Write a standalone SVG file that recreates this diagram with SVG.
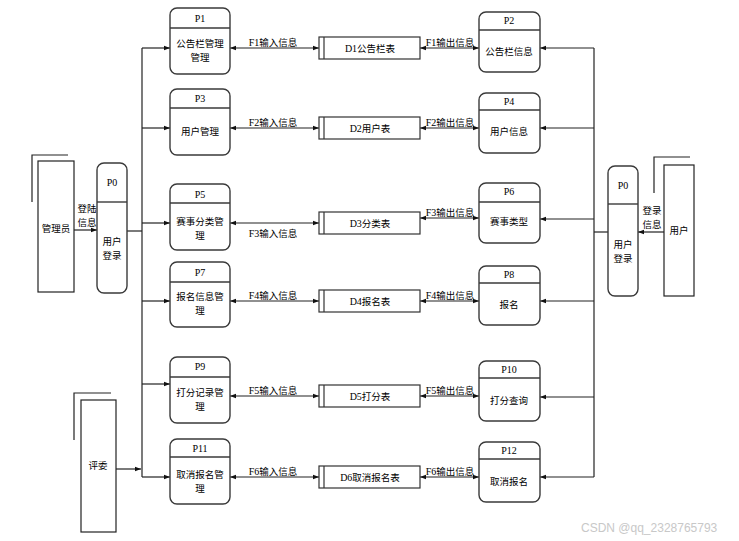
<svg xmlns="http://www.w3.org/2000/svg" width="739" height="541" viewBox="0 0 739 541">
<style>
.box{fill:#fff;stroke:#3a3a3a;stroke-width:1.4}
.ext{fill:#fff;stroke:#222;stroke-width:1.2}
.ln{fill:none;stroke:#222;stroke-width:1.2}
.ds{fill:#fff;stroke:#333;stroke-width:1.2}
text{font-family:"Liberation Serif","Noto Sans CJK SC",serif;font-size:10px;fill:#000;text-anchor:middle}
.cn{font-family:"Noto Sans CJK SC","Liberation Sans",sans-serif;font-size:9.5px}
.wm{font-family:"Liberation Sans","Noto Sans",sans-serif;font-size:12px;fill:#c8c8c8;text-anchor:start}
</style>
<defs>
<marker id="ah" viewBox="0 0 8 8" refX="8" refY="4" markerWidth="6" markerHeight="6" orient="auto-start-reverse" markerUnits="userSpaceOnUse">
<path d="M0,1 L8,4 L0,7 z" fill="#111"/>
</marker>
</defs>

<g id="connectors">
<line class="ln" x1="142" y1="48" x2="142" y2="477"/>
<line class="ln" x1="127" y1="231" x2="142" y2="231"/>
<line class="ln" x1="142" y1="48" x2="170" y2="48" marker-end="url(#ah)"/>
<line class="ln" x1="142" y1="128" x2="170" y2="128" marker-end="url(#ah)"/>
<line class="ln" x1="142" y1="223" x2="170" y2="223" marker-end="url(#ah)"/>
<line class="ln" x1="142" y1="301" x2="170" y2="301" marker-end="url(#ah)"/>
<line class="ln" x1="142" y1="384" x2="170" y2="384" marker-end="url(#ah)"/>
<line class="ln" x1="142" y1="477" x2="170" y2="477" marker-end="url(#ah)"/>
<line class="ln" x1="74" y1="230" x2="97" y2="230" marker-end="url(#ah)"/>
<text class="cn" x="87" y="212">登陆<tspan x="87" dy="14">信息</tspan></text>
<line class="ln" x1="116" y1="469" x2="141" y2="469" marker-end="url(#ah)"/>
<line class="ln" x1="594" y1="48" x2="594" y2="477"/>
<line class="ln" x1="594" y1="232" x2="608" y2="232"/>
<line class="ln" x1="594" y1="48" x2="540" y2="48" marker-end="url(#ah)"/>
<line class="ln" x1="594" y1="128" x2="540" y2="128" marker-end="url(#ah)"/>
<line class="ln" x1="594" y1="219" x2="540" y2="219" marker-end="url(#ah)"/>
<line class="ln" x1="594" y1="301" x2="540" y2="301" marker-end="url(#ah)"/>
<line class="ln" x1="594" y1="397" x2="540" y2="397" marker-end="url(#ah)"/>
<line class="ln" x1="594" y1="477" x2="540" y2="477" marker-end="url(#ah)"/>
<line class="ln" x1="664" y1="232" x2="638" y2="232" marker-end="url(#ah)"/>
<text class="cn" x="652" y="214">登录<tspan x="652" dy="14">信息</tspan></text>

<line class="ln" x1="230" y1="48" x2="319" y2="48" marker-start="url(#ah)" marker-end="url(#ah)"/>
<text x="273" y="46">F1<tspan class="cn">输入信息</tspan></text>
<line class="ln" x1="420" y1="48" x2="479" y2="48" marker-start="url(#ah)" marker-end="url(#ah)"/>
<text x="450" y="46">F1<tspan class="cn">输出信息</tspan></text>

<line class="ln" x1="230" y1="128" x2="319" y2="128" marker-start="url(#ah)" marker-end="url(#ah)"/>
<text x="273" y="126">F2<tspan class="cn">输入信息</tspan></text>
<line class="ln" x1="420" y1="128" x2="479" y2="128" marker-start="url(#ah)" marker-end="url(#ah)"/>
<text x="450" y="126">F2<tspan class="cn">输出信息</tspan></text>

<line class="ln" x1="230" y1="223" x2="319" y2="223" marker-start="url(#ah)" marker-end="url(#ah)"/>
<text x="273" y="237">F3<tspan class="cn">输入信息</tspan></text>
<line class="ln" x1="420" y1="218" x2="479" y2="218" marker-start="url(#ah)" marker-end="url(#ah)"/>
<text x="450" y="216">F3<tspan class="cn">输出信息</tspan></text>

<line class="ln" x1="230" y1="301" x2="319" y2="301" marker-start="url(#ah)" marker-end="url(#ah)"/>
<text x="273" y="299">F4<tspan class="cn">输入信息</tspan></text>
<line class="ln" x1="420" y1="301" x2="479" y2="301" marker-start="url(#ah)" marker-end="url(#ah)"/>
<text x="450" y="299">F4<tspan class="cn">输出信息</tspan></text>

<line class="ln" x1="230" y1="396" x2="319" y2="396" marker-start="url(#ah)" marker-end="url(#ah)"/>
<text x="273" y="394">F5<tspan class="cn">输入信息</tspan></text>
<line class="ln" x1="420" y1="396" x2="479" y2="396" marker-start="url(#ah)" marker-end="url(#ah)"/>
<text x="450" y="394">F5<tspan class="cn">输出信息</tspan></text>

<line class="ln" x1="230" y1="477" x2="319" y2="477" marker-start="url(#ah)" marker-end="url(#ah)"/>
<text x="273" y="475">F6<tspan class="cn">输入信息</tspan></text>
<line class="ln" x1="420" y1="477" x2="479" y2="477" marker-start="url(#ah)" marker-end="url(#ah)"/>
<text x="450" y="475">F6<tspan class="cn">输出信息</tspan></text>
</g>

<g id="admin">
<polyline class="ln" points="32,202 32,155 68,155"/>
<rect class="ext" x="38" y="161" width="36" height="131"/>
<text class="cn" x="56" y="232">管理员</text>
</g>
<g id="judge">
<polyline class="ln" points="74,440 74,393 111,393"/>
<rect class="ext" x="81" y="400" width="35" height="132"/>
<text class="cn" x="98" y="469">评委</text>
</g>
<g id="user">
<polyline class="ln" points="654,193 654,157 690,157"/>
<rect class="ext" x="664" y="165" width="30" height="131"/>
<text class="cn" x="679" y="234">用户</text>
</g>

<g id="P0L">
<rect class="box" x="97" y="163" width="30" height="130" rx="7"/>
<line class="box" x1="97" y1="202" x2="127" y2="202"/>
<text x="112" y="186">P0</text>
<text class="cn" x="112" y="245">用户<tspan x="112" dy="14">登录</tspan></text>
</g>
<g id="P0R">
<rect class="box" x="608" y="166" width="30" height="130" rx="7"/>
<line class="box" x1="608" y1="204" x2="638" y2="204"/>
<text x="623" y="189">P0</text>
<text class="cn" x="623" y="248">用户<tspan x="623" dy="14">登录</tspan></text>
</g>

<g id="P1">
<rect class="box" x="170" y="8" width="60" height="66" rx="7"/>
<line class="box" x1="170" y1="28" x2="230" y2="28"/>
<text x="200" y="22">P1</text>
<text class="cn" x="200" y="47">公告栏管理<tspan x="200" dy="14">管理</tspan></text>
</g>
<g id="P3">
<rect class="box" x="170" y="89" width="60" height="66" rx="7"/>
<line class="box" x1="170" y1="108" x2="230" y2="108"/>
<text x="200" y="102">P3</text>
<text class="cn" x="200" y="135">用户管理</text>
</g>
<g id="P5">
<rect class="box" x="170" y="184" width="60" height="66" rx="7"/>
<line class="box" x1="170" y1="203" x2="230" y2="203"/>
<text x="200" y="198">P5</text>
<text class="cn" x="200" y="225">赛事分类管<tspan x="200" dy="14">理</tspan></text>
</g>
<g id="P7">
<rect class="box" x="170" y="262" width="60" height="65" rx="7"/>
<line class="box" x1="170" y1="282" x2="230" y2="282"/>
<text x="200" y="276">P7</text>
<text class="cn" x="200" y="300">报名信息管<tspan x="200" dy="14">理</tspan></text>
</g>
<g id="P9">
<rect class="box" x="170" y="357" width="60" height="66" rx="7"/>
<line class="box" x1="170" y1="377" x2="230" y2="377"/>
<text x="200" y="370">P9</text>
<text class="cn" x="200" y="396">打分记录管<tspan x="200" dy="14">理</tspan></text>
</g>
<g id="P11">
<rect class="box" x="170" y="439" width="60" height="65" rx="7"/>
<line class="box" x1="170" y1="457" x2="230" y2="457"/>
<text x="200" y="452">P11</text>
<text class="cn" x="200" y="478">取消报名管<tspan x="200" dy="14">理</tspan></text>
</g>

<g id="P2">
<rect class="box" x="479" y="12" width="61" height="60" rx="7"/>
<line class="box" x1="479" y1="30" x2="540" y2="30"/>
<text x="509" y="24">P2</text>
<text class="cn" x="509" y="55">公告栏信息</text>
</g>
<g id="P4">
<rect class="box" x="479" y="93" width="61" height="60" rx="7"/>
<line class="box" x1="479" y1="110" x2="540" y2="110"/>
<text x="509" y="105">P4</text>
<text class="cn" x="509" y="135">用户信息</text>
</g>
<g id="P6">
<rect class="box" x="479" y="183" width="61" height="60" rx="7"/>
<line class="box" x1="479" y1="202" x2="540" y2="202"/>
<text x="509" y="195">P6</text>
<text class="cn" x="509" y="225">赛事类型</text>
</g>
<g id="P8">
<rect class="box" x="479" y="266" width="61" height="59" rx="7"/>
<line class="box" x1="479" y1="283" x2="540" y2="283"/>
<text x="509" y="278">P8</text>
<text class="cn" x="509" y="308">报名</text>
</g>
<g id="P10">
<rect class="box" x="479" y="361" width="61" height="60" rx="7"/>
<line class="box" x1="479" y1="378" x2="540" y2="378"/>
<text x="509" y="373">P10</text>
<text class="cn" x="509" y="404">打分查询</text>
</g>
<g id="P12">
<rect class="box" x="479" y="442" width="61" height="60" rx="7"/>
<line class="box" x1="479" y1="459" x2="540" y2="459"/>
<text x="509" y="454">P12</text>
<text class="cn" x="509" y="485">取消报名</text>
</g>

<g id="D1">
<rect class="ds" x="319" y="37" width="101" height="22"/>
<line class="ds" x1="324" y1="37" x2="324" y2="59"/>
<text x="370" y="52">D1<tspan class="cn">公告栏表</tspan></text>
</g>
<g id="D2">
<rect class="ds" x="319" y="117" width="101" height="22"/>
<line class="ds" x1="324" y1="117" x2="324" y2="139"/>
<text x="370" y="132">D2<tspan class="cn">用户表</tspan></text>
</g>
<g id="D3">
<rect class="ds" x="319" y="212" width="101" height="22"/>
<line class="ds" x1="324" y1="212" x2="324" y2="234"/>
<text x="370" y="227">D3<tspan class="cn">分类表</tspan></text>
</g>
<g id="D4">
<rect class="ds" x="319" y="290" width="101" height="22"/>
<line class="ds" x1="324" y1="290" x2="324" y2="312"/>
<text x="370" y="305">D4<tspan class="cn">报名表</tspan></text>
</g>
<g id="D5">
<rect class="ds" x="319" y="385" width="101" height="22"/>
<line class="ds" x1="324" y1="385" x2="324" y2="407"/>
<text x="370" y="400">D5<tspan class="cn">打分表</tspan></text>
</g>
<g id="D6">
<rect class="ds" x="319" y="466" width="101" height="22"/>
<line class="ds" x1="324" y1="466" x2="324" y2="488"/>
<text x="370" y="481">D6<tspan class="cn">取消报名表</tspan></text>
</g>

<text class="wm" x="581" y="532">CSDN @qq_2328765793</text>
</svg>
